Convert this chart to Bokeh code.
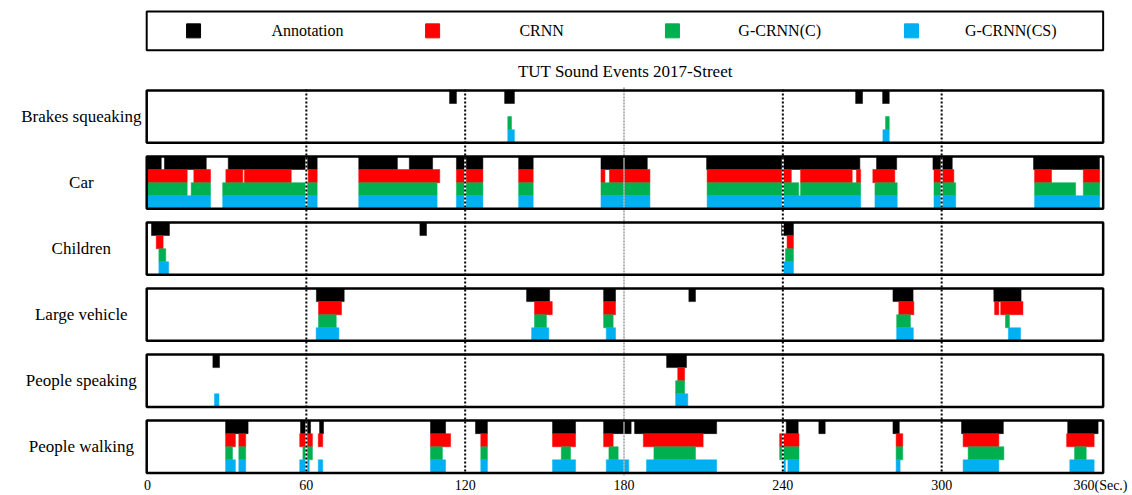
from bokeh.plotting import figure
from bokeh.models import Range1d, FixedTicker, ColumnDataSource
from bokeh.embed import file_html
from bokeh.resources import INLINE
from bokeh.core.properties import value

# ---------------- data ----------------
event_classes = ["Brakes squeaking", "Car", "Children", "Large vehicle",
                 "People speaking", "People walking"]
systems = ["Annotation", "CRNN", "G-CRNN(C)", "G-CRNN(CS)"]
system_colors = ["#000000", "#FF0000", "#00B050", "#00B0F0"]
title_text = "TUT Sound Events 2017-Street"

tick_values = [0, 60, 120, 180, 240, 300, 360]
tick_labels = ["0", "60", "120", "180", "240", "300", "360(Sec.)"]
dotted_marks = [60, 120, 240, 300]
center_mark = 180

# event segments (onset, offset) in seconds
brakes_annotation = [(114.1, 116.7), (134.9, 138.6), (267.5, 270.1), (277.7, 280.2)]
brakes_crnn = []
brakes_gcrnn_c = [(136.1, 137.5), (278.8, 280.2)]
brakes_gcrnn_cs = [(136.1, 138.6), (277.8, 280.2)]

car_annotation = [(0.1, 5.2), (6.4, 22.2), (30.5, 64.1), (79.8, 94.4), (98.9, 107.7),
                  (116.7, 126.7), (140.2, 145.7), (171.3, 188.8), (211.2, 269.1),
                  (275.4, 283.0), (296.7, 304.0), (334.7, 359.6)]
car_crnn = [(0.1, 15.0), (17.5, 23.8), (29.6, 36.0), (36.6, 54.3), (60.7, 64.1),
            (79.8, 110.4), (116.7, 126.7), (140.2, 145.7), (171.3, 172.8),
            (174.5, 189.8), (211.4, 243.2), (246.7, 266.2), (267.8, 269.4),
            (274.0, 282.3), (297.1, 304.6), (335.1, 341.5), (353.5, 359.7)]
car_gcrnn_c = [(0.1, 15.0), (16.5, 23.8), (28.4, 64.1), (79.8, 109.4), (116.7, 126.7),
               (140.2, 145.7), (171.3, 189.8), (211.4, 246.0), (246.7, 269.4),
               (274.8, 283.2), (297.1, 305.3), (335.1, 350.6), (353.5, 359.7)]
car_gcrnn_cs = [(0.1, 23.8), (28.4, 64.1), (79.8, 109.4), (116.7, 126.7), (140.2, 145.7),
                (171.3, 189.8), (211.4, 269.4), (274.8, 283.2), (297.1, 305.3),
                (335.1, 359.7)]

children_annotation = [(1.5, 8.3), (102.9, 105.4), (239.5, 244.0)]
children_crnn = [(3.3, 5.9), (241.6, 244.0)]
children_gcrnn_c = [(4.3, 6.9), (241.0, 244.0)]
children_gcrnn_cs = [(4.3, 8.0), (239.8, 244.0)]

large_vehicle_annotation = [(63.8, 74.3), (143.2, 151.9), (172.3, 176.8), (204.5, 207.0),
                            (281.6, 289.2), (319.7, 330.0)]
large_vehicle_crnn = [(64.6, 73.3), (146.2, 152.9), (172.3, 176.8), (283.8, 289.5),
                      (320.0, 321.6), (322.3, 330.7)]
large_vehicle_gcrnn_c = [(64.6, 71.3), (146.2, 150.7), (172.3, 175.9), (283.0, 288.2),
                         (324.1, 325.6)]
large_vehicle_gcrnn_cs = [(63.7, 72.3), (145.1, 151.6), (173.3, 176.8), (283.0, 289.3),
                          (325.2, 329.8)]

speaking_annotation = [(24.7, 27.2), (196.1, 203.6)]
speaking_crnn = [(200.3, 202.9)]
speaking_gcrnn_c = [(199.5, 202.9)]
speaking_gcrnn_cs = [(25.3, 27.0), (199.5, 204.1)]

walking_annotation = [(29.5, 38.0), (57.8, 61.6), (65.0, 66.5), (106.9, 112.6),
                      (123.9, 128.4), (153.0, 161.7), (172.3, 182.7), (184.0, 215.0),
                      (241.3, 245.8), (253.6, 256.0), (281.6, 284.0), (307.5, 323.3),
                      (347.6, 359.1)]
walking_crnn = [(29.5, 33.2), (34.5, 37.1), (57.5, 62.3), (64.5, 66.2), (106.9, 114.5),
                (125.9, 128.4), (153.0, 161.7), (172.3, 175.9), (187.3, 209.9),
                (238.8, 246.1), (282.8, 285.3), (308.1, 321.6), (347.2, 357.6)]
walking_gcrnn_c = [(29.5, 32.1), (34.5, 37.1), (58.7, 62.3), (106.9, 111.4),
                   (125.9, 128.4), (156.3, 159.8), (174.3, 177.8), (191.3, 207.0),
                   (238.8, 246.1), (282.8, 285.3), (310.0, 323.5), (350.2, 354.6)]
walking_gcrnn_cs = [(29.5, 33.2), (34.5, 37.1), (57.5, 61.1), (64.5, 66.2),
                    (106.9, 112.6), (125.9, 128.4), (153.0, 161.7), (173.3, 181.8),
                    (188.5, 215.0), (239.8, 241.0), (241.9, 246.1), (282.8, 284.3),
                    (308.1, 321.6), (348.4, 357.6)]

class_segments = [
    [brakes_annotation, brakes_crnn, brakes_gcrnn_c, brakes_gcrnn_cs],
    [car_annotation, car_crnn, car_gcrnn_c, car_gcrnn_cs],
    [children_annotation, children_crnn, children_gcrnn_c, children_gcrnn_cs],
    [large_vehicle_annotation, large_vehicle_crnn, large_vehicle_gcrnn_c, large_vehicle_gcrnn_cs],
    [speaking_annotation, speaking_crnn, speaking_gcrnn_c, speaking_gcrnn_cs],
    [walking_annotation, walking_crnn, walking_gcrnn_c, walking_gcrnn_cs],
]

# ---------------- layout ----------------
W, H = 1132, 495
BOTTOM_BORDER = 18
FRAME_H = H - BOTTOM_BORDER          # y axis runs in pixel rows, top = 0
PX0 = 147.0                           # screen x of t = 0
PX_PER_SEC = 953.0 / 360.0
x_start = -PX0 / PX_PER_SEC
x_end = (W - PX0) / PX_PER_SEC

PANEL_TOP = 90.3
PANEL_STEP = 66.3
PANEL_H = 52.6
TRACK_H = PANEL_H / 4
BOX_LEFT, BOX_RIGHT = -0.3, 361.0
LABEL_X = -25.0
FONT = value("Liberation Serif")

p = figure(width=W, height=H, x_range=Range1d(x_start, x_end),
           y_range=Range1d(FRAME_H, 0), y_axis_location=None,
           toolbar_location=None, output_backend="svg",
           min_border_left=0, min_border_right=0, min_border_top=0,
           min_border_bottom=BOTTOM_BORDER, outline_line_color=None,
           background_fill_color="white", border_fill_color="white")
p.xgrid.visible = False
p.ygrid.visible = False

# event bars
bars = dict(left=[], right=[], top=[], bottom=[], color=[])
for ci, per_system in enumerate(class_segments):
    panel_top = PANEL_TOP + ci * PANEL_STEP
    for si, segs in enumerate(per_system):
        for on, off in segs:
            bars["left"].append(on)
            bars["right"].append(off)
            bars["top"].append(panel_top + si * TRACK_H)
            bars["bottom"].append(panel_top + (si + 1) * TRACK_H)
            bars["color"].append(system_colors[si])
p.quad(left="left", right="right", top="top", bottom="bottom", source=ColumnDataSource(bars),
       fill_color="color", line_color="color", line_width=0.5)

# reference time marks
y_lo = PANEL_TOP - 1
y_hi = PANEL_TOP + 5 * PANEL_STEP + PANEL_H + 1
p.segment(x0=dotted_marks, x1=dotted_marks, y0=y_lo, y1=y_hi, line_color="white", line_width=2)
p.segment(x0=dotted_marks, x1=dotted_marks, y0=y_lo, y1=y_hi, line_color="black",
          line_width=2, line_dash="2 2")
p.segment(x0=[center_mark], x1=[center_mark], y0=y_lo - 2, y1=y_hi + 2, line_color="white",
          line_width=1)
p.segment(x0=[center_mark], x1=[center_mark], y0=y_lo - 2, y1=y_hi + 2, line_color="#6a6a6a",
          line_width=1, line_dash="2 1")

# panel frames
tops = [PANEL_TOP + i * PANEL_STEP for i in range(len(event_classes))]
p.quad(left=BOX_LEFT, right=BOX_RIGHT, top=tops, bottom=[t + PANEL_H for t in tops],
       fill_color=None, line_color="black", line_width=2.5)

# class names
p.text(x=[LABEL_X] * len(event_classes), y=[t + PANEL_H / 2 for t in tops], text=event_classes,
       text_align="center", text_baseline="middle", text_font=FONT,
       text_font_size="17px", text_color="black")

# title
p.text(x=[180.5], y=[71], text=[title_text], text_align="center", text_baseline="middle",
       text_font=FONT, text_font_size="17px", text_color="black")

# legend
LEG_TOP, LEG_BOTTOM = 11, 50
p.quad(left=BOX_LEFT, right=BOX_RIGHT, top=LEG_TOP, bottom=LEG_BOTTOM,
       fill_color=None, line_color="black", line_width=2)
swatch_x = [17.4, 107.7, 198.3, 288.6]
label_x = [60.4, 148.9, 238.8, 326.1]
leg_y = (LEG_TOP + LEG_BOTTOM) / 2
p.scatter(x=swatch_x, y=[leg_y] * 4, marker="square", size=14, fill_color=system_colors,
          line_color=system_colors)
p.text(x=label_x, y=[leg_y] * 4, text=systems, text_align="center", text_baseline="middle",
       text_font=FONT, text_font_size="16px", text_color="black")

# time axis
ax = p.xaxis[0]
ax.ticker = FixedTicker(ticks=tick_values)
ax.major_label_overrides = {v: s for v, s in zip(tick_values, tick_labels)}
ax.axis_line_color = None
ax.major_tick_line_color = None
ax.minor_tick_line_color = None
ax.major_tick_out = 0
ax.major_tick_in = 0
ax.major_label_standoff = 2
ax.major_label_text_font = "Liberation Serif"
ax.major_label_text_font_size = "14px"
ax.major_label_text_color = "black"

open("out.html", "w").write(file_html(p, INLINE))
